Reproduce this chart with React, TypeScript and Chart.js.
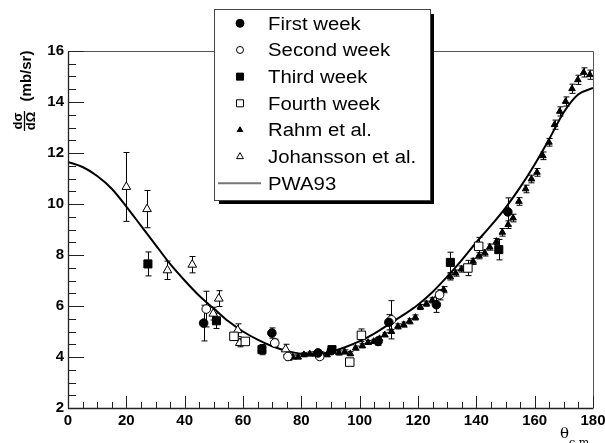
import React, { useEffect, useRef } from 'react';
import { Chart, registerables } from 'chart.js';

Chart.register(...registerables);

// ---- Data ----
const PWA_X = [0, 5, 10, 15, 20, 25, 30, 35, 40, 45, 50, 55, 60, 65, 70, 75, 80, 85, 90, 95, 100, 105, 110, 115, 120, 125, 130, 135, 140, 145, 150, 155, 160, 165, 170, 175, 180];
const PWA_Y = [11.65, 11.45, 11.1, 10.6, 9.9, 9.15, 8.4, 7.65, 7.0, 6.4, 5.9, 5.4, 5.0, 4.68, 4.42, 4.24, 4.13, 4.12, 4.2, 4.38, 4.62, 4.92, 5.28, 5.65, 6.05, 6.55, 7.15, 7.8, 8.5, 9.15, 9.85, 10.65, 11.55, 12.55, 13.6, 14.3, 14.55];

const W1_X = [46.5, 69.9, 85.7, 90.3, 106.3, 110.0, 126.3, 150.8];
const W1_Y = [5.33, 4.94, 4.16, 4.25, 4.61, 5.36, 6.05, 9.69];
const W1_E = [0.7, 0.2, 0.12, 0.1, 0.15, 0.3, 0.3, 0.55];

const W2_X = [47.4, 70.9, 75.4, 86.3, 110.9, 127.4];
const W2_Y = [5.88, 4.55, 4.02, 4.02, 5.46, 6.44];
const W2_E = [0.7, 0.15, 0.1, 0.1, 0.75, 0.2];

const W3_X = [27.4, 50.9, 66.5, 90.5, 131.1, 147.7];
const W3_Y = [7.65, 5.42, 4.29, 4.29, 7.71, 8.21];
const W3_E = [0.47, 0.3, 0.2, 0.1, 0.4, 0.4];

const W4_X = [56.9, 60.8, 96.6, 100.6, 137.1, 140.8];
const W4_Y = [4.81, 4.61, 3.8, 4.85, 7.49, 8.34];
const W4_E = [0.15, 0.1, 0.1, 0.25, 0.3, 0.35];

const JOH_X = [20.0, 27.1, 34.1, 42.6, 49.8, 51.7, 58.2, 58.9, 74.6];
const JOH_Y = [10.67, 9.8, 7.4, 7.62, 5.7, 6.29, 5.05, 4.55, 4.3];
const JOH_E = [1.35, 0.73, 0.36, 0.32, 0.25, 0.31, 0.25, 0.15, 0.2];

const RAHM_X = [75.7, 77.1, 78.9, 80.9, 82.9, 84.6, 86.9, 88.8, 92.9, 94.9, 96.8, 98.6, 100.9, 102.9, 104.8, 106.8, 108.6, 110.9, 113.1, 115.1, 117.1, 119.1, 120.8, 122.9, 124.9, 126.9, 128.8, 131.1, 132.9, 134.9, 136.8, 138.9, 140.9, 142.9, 144.6, 146.9, 148.9, 150.9, 152.6, 154.6, 156.9, 158.9, 160.8, 162.8, 164.9, 166.8, 168.6, 170.6, 172.8, 174.8, 176.8, 178.9];
const RAHM_Y = [3.96, 4.0, 4.0, 4.09, 4.12, 4.12, 4.12, 4.09, 4.16, 4.2, 4.13, 4.35, 4.44, 4.57, 4.61, 4.72, 4.87, 5.0, 5.2, 5.27, 5.4, 5.55, 5.96, 6.09, 6.22, 6.45, 6.64, 7.14, 7.29, 7.45, 7.49, 7.75, 7.97, 8.08, 8.31, 8.53, 8.89, 9.19, 9.45, 10.1, 10.59, 10.98, 11.24, 11.89, 12.42, 13.11, 13.63, 14.02, 14.52, 14.87, 15.16, 15.07];
const RAHM_E = [0.08, 0.08, 0.08, 0.08, 0.08, 0.08, 0.08, 0.08, 0.08, 0.08, 0.08, 0.08, 0.08, 0.08, 0.08, 0.08, 0.08, 0.08, 0.1, 0.1, 0.1, 0.1, 0.1, 0.1, 0.1, 0.1, 0.12, 0.12, 0.12, 0.12, 0.12, 0.12, 0.12, 0.12, 0.12, 0.12, 0.15, 0.15, 0.15, 0.15, 0.15, 0.15, 0.15, 0.15, 0.15, 0.18, 0.18, 0.18, 0.18, 0.18, 0.18, 0.18];

const LEGEND_LABELS = ['First week', 'Second week', 'Third week', 'Fourth week', 'Rahm et al.', 'Johansson et al.', 'PWA93'];

const X_MIN = 0, X_MAX = 180, X_STEP = 20, X_MINOR = 5;
const Y_MIN = 2, Y_MAX = 16, Y_STEP = 2, Y_MINOR = 0.5;

const pts = (xs: number[], ys: number[]) => xs.map((x, i) => ({ x, y: ys[i] }));

type Marker = 'fcircle' | 'ocircle' | 'fsquare' | 'osquare' | 'ftri' | 'otri' | 'line';
const LEGEND_MARKERS: Marker[] = ['fcircle', 'ocircle', 'fsquare', 'osquare', 'ftri', 'otri', 'line'];

function drawMarker(ctx: CanvasRenderingContext2D, m: Marker, x: number, y: number) {
  ctx.save();
  ctx.lineWidth = 1;
  ctx.strokeStyle = '#000';
  ctx.fillStyle = m.startsWith('f') ? '#000' : '#fff';
  ctx.beginPath();
  if (m === 'fcircle' || m === 'ocircle') {
    ctx.arc(x, y, m === 'fcircle' ? 4 : 3.5, 0, Math.PI * 2);
    ctx.fill(); ctx.stroke();
  } else if (m === 'fsquare' || m === 'osquare') {
    ctx.rect(x - 3.5, y - 3.5, 7, 7);
    ctx.fill(); ctx.stroke();
  } else if (m === 'ftri' || m === 'otri') {
    const r = m === 'ftri' ? 3.2 : 4;
    ctx.moveTo(x, y - r);
    ctx.lineTo(x + r * 0.866, y + r / 2);
    ctx.lineTo(x - r * 0.866, y + r / 2);
    ctx.closePath();
    ctx.fill(); ctx.stroke();
  } else {
    ctx.strokeStyle = '#777';
    ctx.lineWidth = 2;
    ctx.moveTo(218, y);
    ctx.lineTo(261, y);
    ctx.stroke();
  }
  ctx.restore();
}

const decorPlugin = {
  id: 'decor',
  beforeDatasetsDraw(chart: any) {
    const { ctx, scales } = chart;
    const xs = scales.x, ys = scales.y;
    ctx.save();
    ctx.strokeStyle = '#000';
    ctx.lineWidth = 1;
    chart.data.datasets.forEach((ds: any) => {
      const errs: number[] | undefined = ds.errors;
      if (!errs) return;
      ds.data.forEach((p: any, j: number) => {
        const e = errs[j];
        if (!e) return;
        const px = Math.round(xs.getPixelForValue(p.x)) + 0.5;
        const y1 = ys.getPixelForValue(p.y + e);
        const y2 = ys.getPixelForValue(p.y - e);
        ctx.beginPath();
        ctx.moveTo(px, y1); ctx.lineTo(px, y2);
        ctx.moveTo(px - 3, y1); ctx.lineTo(px + 3, y1);
        ctx.moveTo(px - 3, y2); ctx.lineTo(px + 3, y2);
        ctx.stroke();
      });
    });
    ctx.restore();
  },
  afterDraw(chart: any) {
    const { ctx, chartArea: a, scales } = chart;
    const xs = scales.x, ys = scales.y;
    ctx.save();
    // frame
    ctx.strokeStyle = '#555';
    ctx.lineWidth = 1;
    ctx.beginPath();
    ctx.moveTo(a.left, a.top + 0.5); ctx.lineTo(a.right + 0.5, a.top + 0.5); ctx.lineTo(a.right + 0.5, a.bottom);
    ctx.stroke();
    ctx.strokeStyle = '#222';
    ctx.lineWidth = 1.3;
    ctx.beginPath();
    ctx.moveTo(a.left + 0.5, a.top); ctx.lineTo(a.left + 0.5, a.bottom + 0.5); ctx.lineTo(a.right + 0.5, a.bottom + 0.5);
    ctx.stroke();
    // ticks
    ctx.lineWidth = 1;
    ctx.beginPath();
    for (let v = X_MIN; v <= X_MAX + 1e-6; v += X_MINOR) {
      const px = Math.round(xs.getPixelForValue(v)) + 0.5;
      const len = Math.abs(v % X_STEP) < 1e-6 ? 12 : 6;
      ctx.moveTo(px, a.bottom); ctx.lineTo(px, a.bottom - len);
    }
    for (let v = Y_MIN; v <= Y_MAX + 1e-6; v += Y_MINOR) {
      const py = Math.round(ys.getPixelForValue(v)) + 0.5;
      const len = Math.abs(v % Y_STEP) < 1e-6 ? 16 : 8;
      ctx.moveTo(a.left, py); ctx.lineTo(a.left + len, py);
    }
    ctx.stroke();

    // y title
    ctx.save();
    ctx.fillStyle = '#000';
    ctx.strokeStyle = '#000';
    ctx.translate(24, 121);
    ctx.rotate(-Math.PI / 2);
    ctx.textAlign = 'center';
    ctx.font = 'bold 13px "Liberation Sans"';
    ctx.textBaseline = 'alphabetic';
    ctx.fillText('d\u03c3', 0, -2);
    ctx.fillText('d\u03a9', 0, 10.5);
    ctx.lineWidth = 1.3;
    ctx.beginPath(); ctx.moveTo(-10, 0.5); ctx.lineTo(10, 0.5); ctx.stroke();
    ctx.font = 'bold 15px "Liberation Sans"';
    ctx.fillText('(mb/sr)', 45, 7);
    ctx.restore();

    // x title
    ctx.fillStyle = '#000';
    ctx.textAlign = 'left';
    ctx.textBaseline = 'alphabetic';
    ctx.font = '15px "DejaVu Serif"';
    ctx.fillText('\u03b8', 560, 438);
    ctx.font = '11px "DejaVu Serif"';
    ctx.fillText('c.m.', 569, 446);

    // legend
    const L = 214, T = 9, R = 430, B = 200;
    ctx.fillStyle = '#000';
    ctx.fillRect(R, T + 5, 4, B - T - 1);
    ctx.fillRect(L + 5, B, R - L - 1, 4);
    ctx.fillStyle = '#fff';
    ctx.fillRect(L, T, R - L, B - T);
    ctx.strokeStyle = '#444';
    ctx.lineWidth = 1;
    ctx.strokeRect(L + 0.5, T + 0.5, R - L, B - T);
    const rowH = 26.67;
    LEGEND_LABELS.forEach((lab, i) => {
      const cy = 23.3 + i * rowH;
      drawMarker(ctx, LEGEND_MARKERS[i], 240, cy);
      ctx.save();
      ctx.translate(268, cy + 6.5);
      ctx.scale(1.13, 1);
      ctx.fillStyle = '#000';
      ctx.font = '18px "Liberation Sans"';
      ctx.textAlign = 'left';
      ctx.textBaseline = 'alphabetic';
      ctx.fillText(lab, 0, 0);
      ctx.restore();
    });
    ctx.restore();
  },
};

export default function App() {
  const ref = useRef<HTMLCanvasElement | null>(null);
  useEffect(() => {
    if (!ref.current) return;
    const tickFont = { family: '"Liberation Sans"', size: 15, weight: 'bold' as const };
    const chart = new Chart(ref.current, {
      type: 'scatter',
      data: {
        datasets: [
          { label: LEGEND_LABELS[0], data: pts(W1_X, W1_Y), errors: W1_E, pointStyle: 'circle', pointRadius: 4.3, backgroundColor: '#000', borderColor: '#000', borderWidth: 1 } as any,
          { label: LEGEND_LABELS[1], data: pts(W2_X, W2_Y), errors: W2_E, pointStyle: 'circle', pointRadius: 4.3, backgroundColor: '#fff', borderColor: '#000', borderWidth: 1 } as any,
          { label: LEGEND_LABELS[2], data: pts(W3_X, W3_Y), errors: W3_E, pointStyle: 'rect', pointRadius: 5.7, backgroundColor: '#000', borderColor: '#000', borderWidth: 1 } as any,
          { label: LEGEND_LABELS[3], data: pts(W4_X, W4_Y), errors: W4_E, pointStyle: 'rect', pointRadius: 6, backgroundColor: '#fff', borderColor: '#000', borderWidth: 1 } as any,
          { label: LEGEND_LABELS[5], data: pts(JOH_X, JOH_Y), errors: JOH_E, pointStyle: 'triangle', pointRadius: 5, backgroundColor: '#fff', borderColor: '#000', borderWidth: 1 } as any,
          { label: LEGEND_LABELS[4], data: pts(RAHM_X, RAHM_Y), errors: RAHM_E, pointStyle: 'triangle', pointRadius: 3.8, backgroundColor: '#000', borderColor: '#000', borderWidth: 1 } as any,
          { label: LEGEND_LABELS[6], data: pts(PWA_X, PWA_Y), showLine: true, pointRadius: 0, borderColor: '#000', borderWidth: 2, cubicInterpolationMode: 'monotone', fill: false } as any,
        ],
      },
      options: {
        responsive: false,
        animation: false,
        layout: { padding: { top: 51, right: 12, left: 0, bottom: 0 } },
        plugins: { legend: { display: false }, tooltip: { enabled: false } },
        scales: {
          x: {
            type: 'linear', min: X_MIN, max: X_MAX,
            grid: { display: false, drawTicks: false },
            border: { display: false },
            ticks: { stepSize: X_STEP, color: '#000', font: tickFont, padding: 4, maxRotation: 0 },
            afterFit: (s: any) => { s.height = 35; s.paddingLeft = 0; s.paddingRight = 0; },
          },
          y: {
            type: 'linear', min: Y_MIN, max: Y_MAX,
            grid: { display: false, drawTicks: false },
            border: { display: false },
            ticks: { stepSize: Y_STEP, color: '#000', font: tickFont, padding: 4 },
            afterFit: (s: any) => { s.width = 68; s.paddingTop = 0; s.paddingBottom = 0; },
          },
        },
      },
      plugins: [decorPlugin],
    } as any);
    return () => chart.destroy();
  }, []);
  return (
    <div style={{ position: 'fixed', left: 0, top: 0, width: 605, height: 443, background: '#fff' }}>
      <canvas ref={ref} width={605} height={443} />
    </div>
  );
}
